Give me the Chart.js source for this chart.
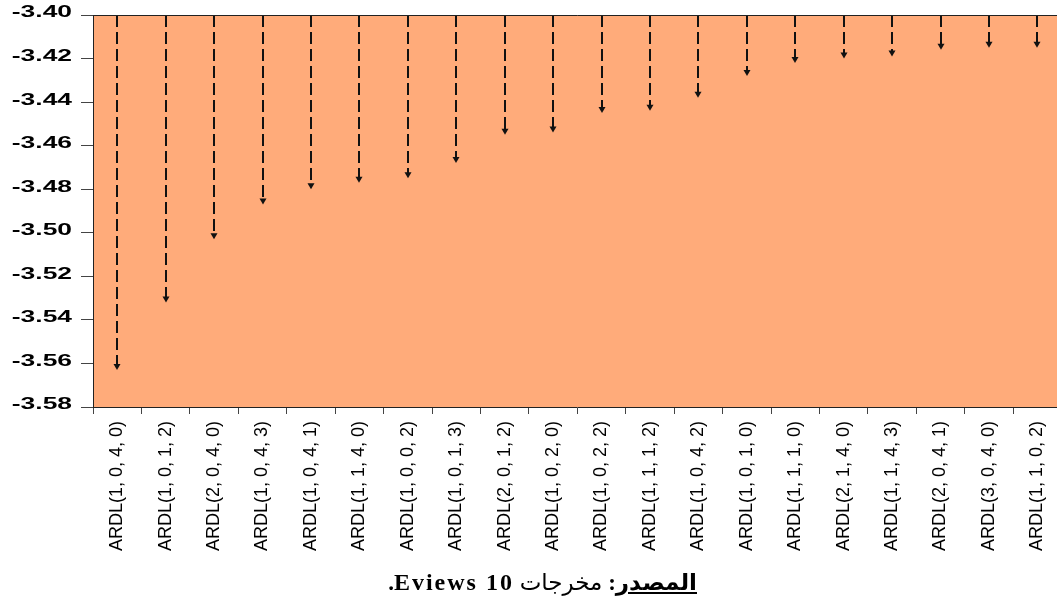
<!DOCTYPE html>
<html>
<head>
<meta charset="utf-8">
<script src="https://cdn.jsdelivr.net/npm/chart.js@4/dist/chart.umd.min.js"></script>
<style>
  html, body { margin: 0; padding: 0; overflow: hidden; background: #fff; width: 1057px; height: 599px; }
  #wrap { position: relative; width: 1057px; height: 599px; overflow: hidden; }
  canvas { display: block; position: absolute; left: 0; top: 0; }
  #source {
    position: absolute; top: 569px; right: 360px;
    direction: rtl; white-space: nowrap;
    font-family: "Liberation Serif", "DejaVu Sans", serif; font-size: 23px; color: #000;
  }
  #source .lbl { font-weight: bold; text-decoration: underline; }
  #source .sw { font-weight: bold; }
  #source .ver { font-weight: bold; font-size: 24px; letter-spacing: 2px; }
</style>
</head>
<body>
<div id="wrap">
  <canvas id="chart" width="1066" height="599"></canvas>
  <div id="source"><span class="lbl">المصدر</span><span class="sw">:</span> مخرجات <span class="ver">Eviews 10</span><span class="sw">.</span></div>
</div>
<script>
// Model labels (ARDL orders), sorted by criterion value
const categories = [
  'ARDL(1, 0, 4, 0)', 'ARDL(1, 0, 1, 2)', 'ARDL(2, 0, 4, 0)', 'ARDL(1, 0, 4, 3)',
  'ARDL(1, 0, 4, 1)', 'ARDL(1, 1, 4, 0)', 'ARDL(1, 0, 0, 2)', 'ARDL(1, 0, 1, 3)',
  'ARDL(2, 0, 1, 2)', 'ARDL(1, 0, 2, 0)', 'ARDL(1, 0, 2, 2)', 'ARDL(1, 1, 1, 2)',
  'ARDL(1, 0, 4, 2)', 'ARDL(1, 0, 1, 0)', 'ARDL(1, 1, 1, 0)', 'ARDL(2, 1, 4, 0)',
  'ARDL(1, 1, 4, 3)', 'ARDL(2, 0, 4, 1)', 'ARDL(3, 0, 4, 0)', 'ARDL(1, 1, 0, 2)'
];

// Criterion value for each model
const criterionValues = [
  -3.563, -3.532, -3.503, -3.487, -3.480, -3.477, -3.475, -3.468,
  -3.455, -3.454, -3.445, -3.444, -3.438, -3.428, -3.422, -3.420,
  -3.419, -3.416, -3.415, -3.415
];

// Value axis range and tick step
const axisMin = -3.58;
const axisMax = -3.40;
const axisStep = 0.02;

const fillColor = 'rgb(255,171,122)';

// Fills the plot area and draws the top frame line
const plotFrame = {
  id: 'plotFrame',
  beforeDraw(chart) {
    const { ctx, chartArea: a } = chart;
    ctx.save();
    ctx.fillStyle = fillColor;
    ctx.fillRect(a.left, a.top, a.right - a.left, a.bottom - a.top);
    ctx.restore();
  },
  afterDraw(chart) {
    const { ctx, chartArea: a } = chart;
    ctx.save();
    ctx.strokeStyle = '#222';
    ctx.lineWidth = 1;
    ctx.beginPath();
    ctx.moveTo(a.left, a.top + 0.5);
    ctx.lineTo(a.right, a.top + 0.5);
    ctx.stroke();
    ctx.restore();
  }
};

// Dashed stems hanging from the top of the axis down to each value, ending in an arrowhead
const arrowStems = {
  id: 'arrowStems',
  afterDatasetsDraw(chart) {
    const { ctx, scales: { y } } = chart;
    const meta = chart.getDatasetMeta(0);
    const top = y.getPixelForValue(axisMax);
    const headH = 6, headW = 3.5;
    ctx.save();
    ctx.strokeStyle = '#111';
    ctx.fillStyle = '#111';
    ctx.lineWidth = 2;
    meta.data.forEach(pt => {
      const x = Math.round(pt.x);
      const tip = pt.y;
      ctx.setLineDash([12, 5]);
      ctx.beginPath();
      ctx.moveTo(x, top);
      ctx.lineTo(x, tip - headH + 1);
      ctx.stroke();
      ctx.setLineDash([]);
      ctx.beginPath();
      ctx.moveTo(x - headW, tip - headH);
      ctx.lineTo(x + headW, tip - headH);
      ctx.lineTo(x, tip);
      ctx.closePath();
      ctx.fill();
    });
    ctx.restore();
  }
};

// Wide bold value labels for the vertical axis
const valueLabels = {
  id: 'valueLabels',
  afterDraw(chart) {
    const { ctx, scales: { y } } = chart;
    ctx.save();
    ctx.fillStyle = '#000';
    ctx.font = 'bold 16px "Liberation Sans", Arial, sans-serif';
    ctx.textAlign = 'right';
    ctx.textBaseline = 'middle';
    y.ticks.forEach(t => {
      const py = y.getPixelForValue(t.value);
      ctx.save();
      ctx.translate(72, py - 2);
      ctx.scale(1.65, 1);
      ctx.fillText(t.value.toFixed(2), 0, 0);
      ctx.restore();
    });
    ctx.restore();
  }
};

new Chart(document.getElementById('chart'), {
  type: 'line',
  data: {
    labels: categories,
    datasets: [{
      data: criterionValues,
      showLine: false,
      pointRadius: 0,
      pointHoverRadius: 0,
      borderColor: '#111',
      backgroundColor: '#111'
    }]
  },
  options: {
    responsive: false,
    animation: false,
    events: [],
    layout: { padding: { top: 15, left: 0, right: 1, bottom: 0 } },
    plugins: {
      legend: { display: false },
      tooltip: { enabled: false },
      title: { display: false }
    },
    scales: {
      x: {
        type: 'category',
        offset: true,
        grid: {
          offset: true,
          drawOnChartArea: false,
          drawTicks: true,
          tickLength: 7,
          color: '#444'
        },
        border: { display: true, color: '#222', width: 1 },
        ticks: {
          autoSkip: false,
          minRotation: 90,
          maxRotation: 90,
          padding: 7,
          color: '#000',
          font: { family: '"Liberation Sans", Arial, sans-serif', size: 18 }
        },
        afterFit(scale) { scale.height = 192; }
      },
      y: {
        min: axisMin,
        max: axisMax,
        grid: {
          drawOnChartArea: false,
          drawTicks: true,
          tickLength: 12,
          color: '#444'
        },
        border: { display: true, color: '#222', width: 1 },
        ticks: {
          display: false,
          stepSize: axisStep
        },
        afterFit(scale) { scale.width = 93; }
      }
    }
  },
  plugins: [plotFrame, arrowStems, valueLabels]
});
</script>
</body>
</html>
